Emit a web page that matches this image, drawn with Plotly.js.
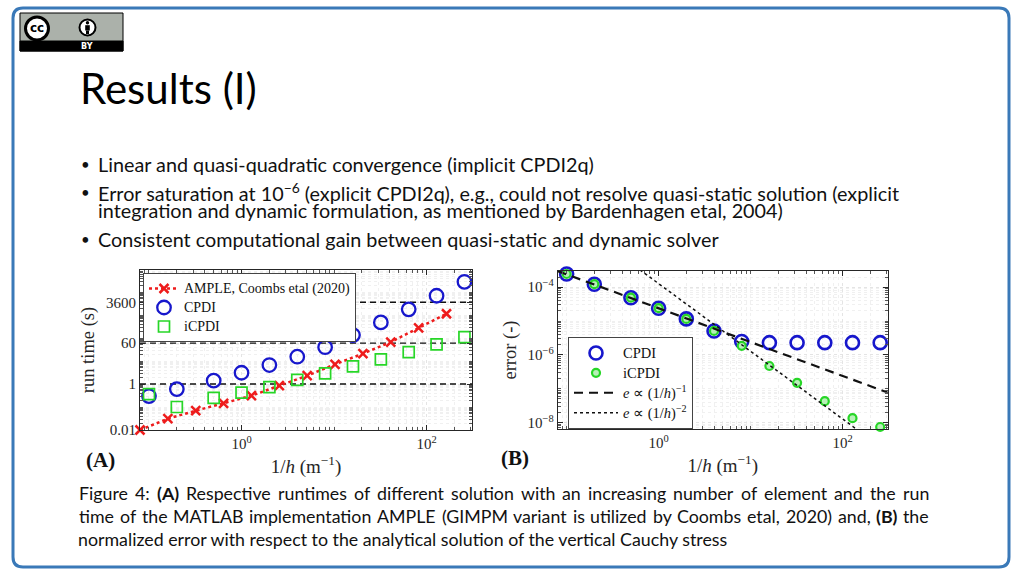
<!DOCTYPE html>
<html>
<head>
<meta charset="utf-8">
<script src="https://cdn.plot.ly/plotly-3.0.1.min.js"></script>
<style>
html,body{margin:0;padding:0;background:#fff;overflow:hidden;}
#chart{width:1024px;height:576px;}
</style>
</head>
<body>
<div id="chart"></div>
<script>
// ---- data ----
const runX = [0.1, 0.2, 0.5, 1, 2, 4, 8, 16, 32, 64, 128, 256];
const cpdiRun = [0.30, 0.60, 1.4, 3.1, 6.7, 15.4, 40, 135, 480, 1770, 6900, 28000];
const icpdiRun = [0.36, 0.10, 0.25, 0.42, 0.74, 1.5, 2.9, 5.9, 11.8, 24.6, 53, 110];
const ampleX = [0.08, 0.16, 0.32, 0.64, 1.28, 2.56, 5.12, 10.24, 20.48, 40.96, 81.92, 163.84];
const ampleRun = [0.010, 0.031, 0.069, 0.145, 0.31, 0.85, 2.3, 7.2, 21, 67, 280, 1140];
const runLevels = [1, 60, 3600];
const runTickVals = [0.01, 1, 60, 3600];
const runTickText = ['0.01', '1', '60', '3600'];

const errX = [0.1, 0.2, 0.5, 1, 2, 4, 8, 16, 32, 64, 128, 256];
const cpdiErr = [2.46e-4, 1.23e-4, 4.9e-5, 2.4e-5, 1.16e-5, 5.1e-6, 2.5e-6, 2.3e-6, 2.3e-6, 2.3e-6, 2.3e-6, 2.3e-6];
const icpdiErr = [2.46e-4, 1.23e-4, 4.9e-5, 2.4e-5, 1.16e-5, 5.1e-6, 1.86e-6, 4.7e-7, 1.5e-7, 4.3e-8, 1.35e-8, 7.4e-9];
const refX = [0.08, 310];
const ref1Err = [3.0e-4, 7.7e-8];
const ref2Err = [2.0e-2, 1.33e-9];
const errTickVals = [1e-8, 1e-6, 1e-4];
const errTickText = ['10<sup>−8</sup>', '10<sup>−6</sup>', '10<sup>−4</sup>'];
const xTickVals = [1, 100];
const xTickText = ['10<sup>0</sup>', '10<sup>2</sup>'];

const bullets = [
  'Linear and quasi-quadratic convergence (implicit CPDI2q)',
  'Error saturation at 10<sup>−6</sup> (explicit CPDI2q), e.g., could not resolve quasi-static solution (explicit',
  'integration and dynamic formulation, as mentioned by Bardenhagen etal, 2004)',
  'Consistent computational gain between quasi-static and dynamic solver'
];
const captionLines = [
  'Figure 4: <b>(A)</b> Respective runtimes of different solution with an increasing number of element and the run',
  'time of the MATLAB implementation AMPLE (GIMPM variant is utilized by Coombs etal, 2020) and, <b>(B)</b> the',
  'normalized error with respect to the analytical solution of the vertical Cauchy stress'
];

// ---- helpers (pixel -> paper) ----
const W = 1024, H = 576;
const px = v => v / W;
const py = v => 1 - v / H;
function roundRectPath(x0, y0, x1, y1, r) {
  const P = (x, y) => px(x) + ',' + py(y);
  return 'M' + P(x0 + r, y0) + ' L' + P(x1 - r, y0) + ' Q' + P(x1, y0) + ' ' + P(x1, y0 + r) +
    ' L' + P(x1, y1 - r) + ' Q' + P(x1, y1) + ' ' + P(x1 - r, y1) +
    ' L' + P(x0 + r, y1) + ' Q' + P(x0, y1) + ' ' + P(x0, y1 - r) +
    ' L' + P(x0, y0 + r) + ' Q' + P(x0, y0) + ' ' + P(x0 + r, y0) + ' Z';
}
function rect(x0, y0, x1, y1, fill, lc, lw) {
  return {type: 'rect', xref: 'paper', yref: 'paper', x0: px(x0), x1: px(x1), y0: py(y1), y1: py(y0),
    fillcolor: fill, line: {color: lc, width: lw}, layer: 'above'};
}
function circ(cx, cy, r, fill, lc, lw) {
  return {type: 'circle', xref: 'paper', yref: 'paper', x0: px(cx - r), x1: px(cx + r), y0: py(cy + r), y1: py(cy - r),
    fillcolor: fill, line: {color: lc, width: lw}, layer: 'above'};
}
const big = (s, size) => '<span style="font-size:' + size + 'px">' + s + '</span>';

const SERIF = 'Liberation Serif, Times New Roman, serif';
const SANS = 'Lato, Open Sans, sans-serif';
const BLUE = '#1717cc', GREEN = '#27d627', RED = '#ee1c1c', AX = '#262626';

const xLeft = Math.log10(0.08), xRight = Math.log10(309);

const traces = [];
// Panel A
runLevels.forEach(v => traces.push({x: [0.08, 309], y: [v, v], xaxis: 'x', yaxis: 'y', mode: 'lines',
  line: {color: '#111', width: 1.4, dash: '6px,4px'}, showlegend: false, hoverinfo: 'skip'}));
traces.push({x: ampleX, y: ampleRun, xaxis: 'x', yaxis: 'y', mode: 'lines+markers', name: big('AMPLE, Coombs etal (2020)', 14),
  line: {color: RED, width: 2.5, dash: 'dot'}, marker: {symbol: 'x-thin-open', size: 9, color: RED, line: {color: RED, width: 2.5}},
  cliponaxis: false, legend: 'legend'});
traces.push({x: runX, y: cpdiRun, xaxis: 'x', yaxis: 'y', mode: 'markers', name: big('CPDI', 14),
  marker: {symbol: 'circle-open', size: 13.5, color: BLUE, line: {color: BLUE, width: 2.3}}, cliponaxis: false, legend: 'legend'});
traces.push({x: runX, y: icpdiRun, xaxis: 'x', yaxis: 'y', mode: 'markers', name: big('iCPDI', 14),
  marker: {symbol: 'square-open', size: 11, color: GREEN, line: {color: GREEN, width: 1.7}}, cliponaxis: false, legend: 'legend'});
// Panel B
traces.push({x: errX, y: cpdiErr, xaxis: 'x2', yaxis: 'y2', mode: 'markers', name: big('CPDI', 14.5),
  marker: {symbol: 'circle-open', size: 13, color: BLUE, line: {color: BLUE, width: 2.6}}, cliponaxis: false, legend: 'legend2'});
traces.push({x: errX, y: icpdiErr, xaxis: 'x2', yaxis: 'y2', mode: 'markers', name: big('iCPDI', 14.5),
  marker: {symbol: 'circle', size: 8, color: '#b8f0b8', line: {color: GREEN, width: 2.2}}, cliponaxis: false, legend: 'legend2'});
traces.push({x: refX, y: ref1Err, xaxis: 'x2', yaxis: 'y2', mode: 'lines', name: big('<i>e</i> ∝ (1/<i>h</i>)<sup>−1</sup>', 14.5),
  line: {color: '#111', width: 2.2, dash: '9px,6px'}, legend: 'legend2'});
traces.push({x: refX, y: ref2Err, xaxis: 'x2', yaxis: 'y2', mode: 'lines', name: big('<i>e</i> ∝ (1/<i>h</i>)<sup>−2</sup>', 14.5),
  line: {color: '#111', width: 1.5, dash: 'dot'}, legend: 'legend2'});

function logAxis(extra) {
  return Object.assign({type: 'log', showline: true, linecolor: AX, linewidth: 1, mirror: 'ticks',
    ticks: 'inside', ticklen: 5, tickcolor: AX, tickwidth: 1, zeroline: false,
    showgrid: true, gridcolor: '#e4e4e4', griddash: 'dot', gridwidth: 1,
    tickfont: {family: SERIF, size: 15, color: AX}, tickmode: 'array',
    minor: {dtick: 'D1', ticks: 'inside', ticklen: 3, tickcolor: '#555', showgrid: true, gridcolor: '#f0f0f0', griddash: 'dot'},
    automargin: false, fixedrange: true}, extra);
}
const xTitle = {text: '1/<i>h</i> (m<sup>−1</sup>)', font: {family: SERIF, size: 19, color: AX}, standoff: 8};

const layout = {
  width: W, height: H, margin: {l: 0, r: 0, t: 0, b: 0}, paper_bgcolor: '#fff', plot_bgcolor: '#fff',
  showlegend: true,
  xaxis: logAxis({domain: [px(140), px(472)], range: [xLeft, xRight], anchor: 'y', tickvals: xTickVals, ticktext: xTickText, title: xTitle}),
  yaxis: logAxis({domain: [py(430), py(270)], range: [-2, 4.96], anchor: 'x', tickvals: runTickVals, ticktext: runTickText,
    title: {text: 'run time (s)', font: {family: SERIF, size: 18.5, color: AX}, standoff: 6}}),
  xaxis2: logAxis({domain: [px(557.7), px(887.7)], range: [xLeft, xRight], anchor: 'y2', tickvals: xTickVals, ticktext: xTickText, title: xTitle}),
  yaxis2: logAxis({domain: [py(429), py(271)], range: [-8.19, -3.52], anchor: 'x2', tickvals: errTickVals, ticktext: errTickText,
    title: {text: 'error (-)', font: {family: SERIF, size: 18.5, color: AX}, standoff: 6}}),
  legend: {x: px(143), y: py(273), xanchor: 'left', yanchor: 'top', bgcolor: '#fff', bordercolor: '#444', borderwidth: 1,
    font: {family: SERIF, size: 12.3, color: '#111'}, tracegroupgap: 0},
  legend2: {x: px(568), y: py(337), xanchor: 'left', yanchor: 'top', bgcolor: '#fff', bordercolor: '#444', borderwidth: 1,
    font: {family: SERIF, size: 13, color: '#111'}, itemwidth: 44, tracegroupgap: 0},
  shapes: [
    {type: 'path', xref: 'paper', yref: 'paper', path: roundRectPath(13, 8, 1009, 567, 10), line: {color: '#3a79b8', width: 3}, layer: 'above'},
    rect(20, 13, 123, 51, '#abb1aa', '#000', 1),
    rect(20, 41, 123, 51, '#000', '#000', 1),
    circ(37, 28.5, 11.5, '#fff', '#000', 3),
    circ(87.5, 27.5, 8, '#fff', '#000', 2),
    circ(87.5, 22.8, 1.7, '#000', '#000', 0),
    rect(85.2, 25.2, 89.8, 30.5, '#000', '#000', 0),
    rect(86.0, 30.5, 89.0, 34.0, '#000', '#000', 0)
  ],
  annotations: []
};

const A = layout.annotations;
function txt(x, y, text, size, opts) {
  A.push(Object.assign({xref: 'paper', yref: 'paper', x: px(x), y: py(y), text: text, showarrow: false,
    xanchor: 'left', yanchor: 'middle', font: {family: SANS, size: size, color: '#111'}}, opts || {}));
}
// justified line: words spread between x0 and x1 (widths measured with the same font)
const mctx = document.createElement('canvas').getContext('2d');
function justify(line, y, size, x0, x1) {
  const words = line.split(' ').map(w => ({t: w.replace(/<\/?b>/g, ''), b: /<b>/.test(w)}));
  const widths = words.map(w => { mctx.font = (w.b ? 'bold ' : '') + size + 'px Lato'; return mctx.measureText(w.t).width; });
  const total = widths.reduce((a, b) => a + b, 0);
  const gap = (x1 - x0 - total) / (words.length - 1);
  let x = x0;
  words.forEach((w, i) => { txt(x, y, w.b ? '<b>' + w.t + '</b>' : w.t, size); x += widths[i] + gap; });
}
// logo text
txt(37, 28.5, '<b>cc</b>', 12, {xanchor: 'center', font: {family: 'DejaVu Sans, sans-serif', size: 12, color: '#000'}});
txt(87, 46.5, '<b>BY</b>', 8, {xanchor: 'center', font: {family: 'DejaVu Sans, sans-serif', size: 8, color: '#fff'}});
// slide title
txt(78, 88, 'Results (I)', 42, {font: {family: SANS, size: 42, color: '#000'}});
// bullets
[164, 192, 239].forEach(y => txt(79, y, '•', 15));
const bulletYs = [164, 192, 210, 239];
bullets.forEach((b, i) => txt(96, bulletYs[i], b, 19.8));
// caption (first two lines justified)
justify(captionLines[0], 493, 17.8, 77, 927);
justify(captionLines[1], 516, 17.8, 77, 927);
txt(76, 539, captionLines[2], 17.8);
// panel labels
txt(84, 460, '<b>(A)</b>', 21, {font: {family: SERIF, size: 21, color: '#111'}});
txt(499, 458, '<b>(B)</b>', 21, {font: {family: SERIF, size: 21, color: '#111'}});

Plotly.newPlot('chart', traces, layout, {staticPlot: true, displayModeBar: false});
</script>
</body>
</html>
